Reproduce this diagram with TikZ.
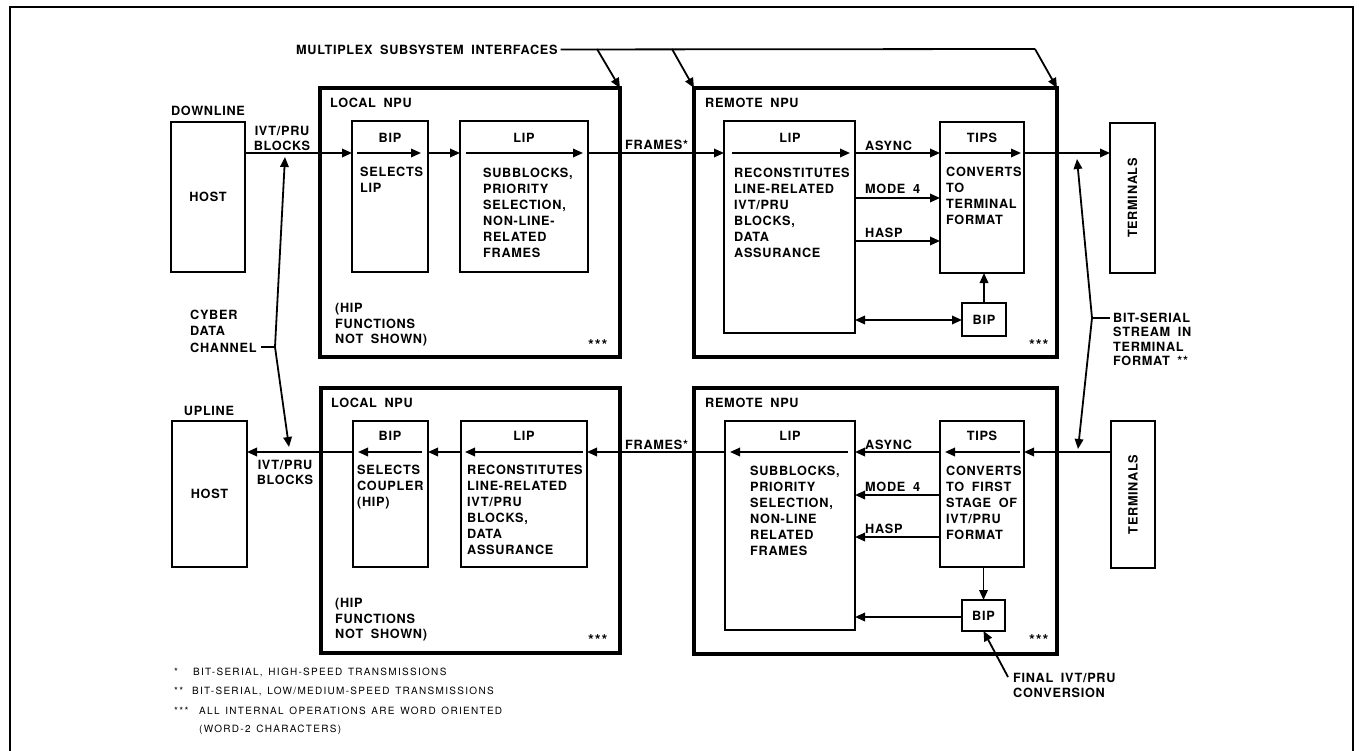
\documentclass[tikz,border=0pt]{standalone}
\usepackage{fontspec}
\setmainfont{TeX Gyre Heros}
\newfontfamily\lblfont[LetterSpace=5.5,WordSpace=1.8]{TeX Gyre Heros}
\newfontfamily\fnfont[LetterSpace=13,WordSpace=1.4]{TeX Gyre Heros}
\usetikzlibrary{arrows.meta,calc}
\newcommand\mkbox[7]{%
  \pgfmathsetmacro\bxw{#5-#3}\pgfmathsetmacro\bxh{#6-#4}%
  \pgfmathsetmacro\bxx{(#3+#5)/2}\pgfmathsetmacro\bxy{(#4+#6)/2}%
  \node[#1, minimum width=\bxw pt, minimum height=\bxh pt] (#2) at (\bxx,\bxy) {#7};}
\tikzset{
  frame/.style={line width=2.4pt},
  bx/.style={draw, line width=2.9pt, inner sep=0pt, outer sep=0pt, font=\lblfont\bfseries\fontsize{12.7}{16}\selectfont},
  npu/.style={draw, line width=3.3pt, inner sep=0pt, outer sep=0pt},
  ln/.style={line width=1.8pt},
  arr/.style={line width=1.8pt, -{Triangle[length=10pt,width=8.5pt]}},
  darr/.style={line width=1.8pt, {Triangle[length=10pt,width=8.5pt]}-{Triangle[length=10pt,width=8.5pt]}},
  lb/.style={font=\lblfont\bfseries\fontsize{12.7}{16}\selectfont, inner sep=0pt, anchor=north west, align=left},
  lbc/.style={font=\lblfont\bfseries\fontsize{12.7}{16}\selectfont, inner sep=0pt, anchor=center, align=center},
  dots/.style={font=\lblfont\bfseries\fontsize{15}{16}\selectfont, inner sep=0pt, anchor=north west},
  fn/.style={font=\fnfont\fontsize{10}{12}\selectfont, inner sep=0pt, anchor=west},
}
\begin{document}
\begin{tikzpicture}[x=1pt,y=-1pt]
\useasboundingbox (0,0) rectangle (1359,751);
\draw[frame] (10,760) -- (10,7) -- (1353,7) -- (1353,760);

% NPU enclosures
\mkbox{npu}{npuLT}{320}{88}{620}{357}{}
\mkbox{npu}{npuRT}{694}{88}{1057}{357}{}
\mkbox{npu}{npuLB}{321}{388}{620}{653}{}
\mkbox{npu}{npuRB}{694}{388}{1057}{654}{}

% top row boxes
\mkbox{bx}{hostD}{171}{122}{245}{272}{HOST}
\mkbox{bx}{bipLT}{352}{121}{428}{272}{}
\mkbox{bx}{lipLT}{460}{121}{588}{272}{}
\mkbox{bx}{lipRT}{724}{121}{855}{333}{}
\mkbox{bx}{tipsT}{940}{122}{1024}{273}{}
\mkbox{bx}{bipRT}{962}{303}{1006}{336}{BIP}
\mkbox{bx}{termT}{1110}{123}{1155}{273}{}

% bottom row boxes
\mkbox{bx}{hostU}{172}{421}{247}{567}{HOST}
\mkbox{bx}{bipLB}{353}{421}{428}{567}{}
\mkbox{bx}{lipLB}{461}{421}{587}{567}{}
\mkbox{bx}{lipRB}{725}{421}{855}{630}{}
\mkbox{bx}{tipsB}{940}{421}{1024}{567}{}
\mkbox{bx}{bipRB}{962}{600}{1005}{631}{BIP}
\mkbox{bx}{termB}{1111}{421}{1155}{568}{}

% rotated terminal labels
\node[lbc, rotate=90] (termTt) at (termT.center) {TERMINALS};
\node[lbc, rotate=90] (termBt) at (termB.center) {TERMINALS};

% row coordinates
\coordinate (r1) at (0,153);
\coordinate (rM) at (0,198);
\coordinate (rH) at (0,241);
\coordinate (rB) at (0,320);
\coordinate (s1) at (0,452);
\coordinate (sM) at (0,495);
\coordinate (sH) at (0,537);
\coordinate (sB) at (0,617);

% ---------- top labels ----------
\node[lb] (mux) at (296,44.5) {MULTIPLEX SUBSYSTEM INTERFACES};
\node[lbc] (dl) at (208,111) {DOWNLINE};
\node[lbc, font=\lblfont\bfseries\fontsize{12.7}{15}\selectfont] (ivtT) at (282,138) {IVT/PRU\\BLOCKS};
\node[lb] (lnpuT) at (330,97.5) {LOCAL NPU};
\node[lbc] (bipLTl) at (390,138) {BIP};
\node[lb] (bipLTt) at (360,166.5) {SELECTS\\LIP};
\node[lbc] (lipLTl) at (524,138) {LIP};
\node[lb] (lipLTt) at (483,167.5) {SUBBLOCKS,\\PRIORITY\\SELECTION,\\NON-LINE-\\RELATED\\FRAMES};
\node[lb] (frT) at (625,139.5) {FRAMES*};
\node[lb] (rnpuT) at (705,97.5) {REMOTE NPU};
\node[lbc] (lipRTl) at (790,138) {LIP};
\node[lb] (lipRTt) at (734,167.5) {RECONSTITUTES\\LINE-RELATED\\IVT/PRU\\BLOCKS,\\DATA\\ASSURANCE};
\node[lb] (asT) at (865,140.5) {ASYNC};
\node[lb] (m4T) at (865,183.5) {MODE 4};
\node[lb] (haT) at (865,227.5) {HASP};
\node[lbc] (tipsTl) at (982,138) {TIPS};
\node[lb] (tipsTt) at (946,166.5) {CONVERTS\\TO\\TERMINAL\\FORMAT};
\node[dots] (dotLT) at (588,339) {***};
\node[dots] (dotRT) at (1029,339) {***};
\node[lb, font=\lblfont\bfseries\fontsize{12.7}{15.5}\selectfont] (hipT) at (335,303.5) {(HIP\\FUNCTIONS\\NOT SHOWN)};
\node[lb, font=\lblfont\bfseries\fontsize{12.7}{16.5}\selectfont] (cyber) at (190,309.5) {CYBER\\DATA\\CHANNEL};
\node[lb, font=\lblfont\bfseries\fontsize{12.7}{14.5}\selectfont] (bits) at (1113,312.5) {BIT-SERIAL\\STREAM IN\\TERMINAL\\FORMAT **};

% ---------- bottom labels ----------
\node[lbc] (ul) at (209,411) {UPLINE};
\node[lbc, font=\lblfont\bfseries\fontsize{12.7}{15}\selectfont] (ivtB) at (285,472.5) {IVT/PRU\\BLOCKS};
\node[lb] (lnpuB) at (331,397.5) {LOCAL NPU};
\node[lbc] (bipLBl) at (390,436) {BIP};
\node[lb] (bipLBt) at (357,464.5) {SELECTS\\COUPLER\\(HIP)};
\node[lbc] (lipLBl) at (524,436) {LIP};
\node[lb] (lipLBt) at (467,464.5) {RECONSTITUTES\\LINE-RELATED\\IVT/PRU\\BLOCKS,\\DATA\\ASSURANCE};
\node[lb] (frB) at (625,439.5) {FRAMES*};
\node[lb] (rnpuB) at (705,397.5) {REMOTE NPU};
\node[lbc] (lipRBl) at (790,436) {LIP};
\node[lb] (lipRBt) at (750,465.5) {SUBBLOCKS,\\PRIORITY\\SELECTION,\\NON-LINE\\RELATED\\FRAMES};
\node[lb] (asB) at (865,439.5) {ASYNC};
\node[lb] (m4B) at (865,481.5) {MODE 4};
\node[lb] (haB) at (865,523.5) {HASP};
\node[lbc] (tipsBl) at (982,436) {TIPS};
\node[lb] (tipsBt) at (946,465.5) {CONVERTS\\TO FIRST\\STAGE OF\\IVT/PRU\\FORMAT};
\node[dots] (dotLB) at (588,634) {***};
\node[dots] (dotRB) at (1029,634) {***};
\node[lb, font=\lblfont\bfseries\fontsize{12.7}{15.5}\selectfont] (hipB) at (335,598.5) {(HIP\\FUNCTIONS\\NOT SHOWN)};
\node[lb, font=\lblfont\bfseries\fontsize{12.7}{14.5}\selectfont] (finc) at (1013,673.5) {FINAL IVT/PRU\\CONVERSION};

% footnotes
\node[fn] (f1m) at (174,672) {*};
\node[fn] (f1) at (193,672) {BIT-SERIAL, HIGH-SPEED TRANSMISSIONS};
\node[fn] (f2m) at (174,691) {**};
\node[fn] (f2) at (192,691) {BIT-SERIAL, LOW/MEDIUM-SPEED TRANSMISSIONS};
\node[fn] (f3m) at (174,711) {***};
\node[fn] (f3) at (199,711) {ALL INTERNAL OPERATIONS ARE WORD ORIENTED};
\node[fn] (f4) at (199,730) {(WORD-2 CHARACTERS)};

% ---------- top connectors ----------
\draw[arr] (hostD.east |- r1) -- (bipLT.west |- r1);
\draw[arr] ($(bipLT.west |- r1)+(5,0)$) -- ($(bipLT.east |- r1)+(-7,0)$);
\draw[arr] (bipLT.east |- r1) -- (lipLT.west |- r1);
\draw[arr] ($(lipLT.west |- r1)+(6,0)$) -- ($(lipLT.east |- r1)+(-5,0)$);
\draw[arr] (lipLT.east |- r1) -- (lipRT.west |- r1);
\draw[arr] ($(lipRT.west |- r1)+(8,0)$) -- ($(lipRT.east |- r1)+(-5,0)$);
\draw[arr] (lipRT.east |- r1) -- (tipsT.west |- r1);
\draw[arr] (lipRT.east |- rM) -- (tipsT.west |- rM);
\draw[arr] (lipRT.east |- rH) -- (tipsT.west |- rH);
\draw[arr] ($(tipsT.west |- r1)+(5,0)$) -- ($(tipsT.east |- r1)+(-3,0)$);
\draw[arr] (tipsT.east |- r1) -- (termT.west |- r1);
\draw[arr] (bipRT.north) -- (bipRT.north |- tipsT.south);
\draw[darr] (lipRT.east |- rB) -- (bipRT.west |- rB);

% ---------- bottom connectors ----------
\draw[arr] (bipLB.west |- s1) -- (hostU.east |- s1);
\draw[arr] ($(bipLB.east |- s1)+(-6,0)$) -- ($(bipLB.west |- s1)+(5,0)$);
\draw[arr] (lipLB.west |- s1) -- (bipLB.east |- s1);
\draw[arr] ($(lipLB.east |- s1)+(-4,0)$) -- ($(lipLB.west |- s1)+(4,0)$);
\draw[arr] (lipRB.west |- s1) -- (lipLB.east |- s1);
\draw[arr] ($(lipRB.east |- s1)+(-7,0)$) -- ($(lipRB.west |- s1)+(5,0)$);
\draw[arr] (tipsB.west |- s1) -- (lipRB.east |- s1);
\draw[arr] (tipsB.west |- sM) -- (lipRB.east |- sM);
\draw[arr] (tipsB.west |- sH) -- (lipRB.east |- sH);
\draw[arr] ($(tipsB.east |- s1)+(-4,0)$) -- ($(tipsB.west |- s1)+(5,0)$);
\draw[arr] (termB.west |- s1) -- (tipsB.east |- s1);
\draw[arr] (bipRB.north |- tipsB.south) -- (bipRB.north);
\draw[arr] (bipRB.west |- sB) -- (lipRB.east |- sB);

% ---------- callouts ----------
\coordinate (m1) at (597,49);
\coordinate (m2) at (672,49);
\coordinate (m3) at (1035,49);
\draw[ln, shorten <=3pt] (mux.east) -- (m3);
\draw[arr] (m1) -- (npuLT.north east);
\draw[arr] (m2) -- (npuRT.north west);
\draw[arr] (m3) -- (npuRT.north east);

\coordinate (cbt) at (261,347);
\coordinate (cb) at (275,347);
\coordinate (cbu) at (285,157);
\coordinate (cbd) at (289,447);
\draw[ln] (cbt) -- (cb);
\draw[arr] (cb) -- (cbu);
\draw[arr] (cb) -- (cbd);

\coordinate (bs) at (1092,318);
\coordinate (bst) at (1110,318);
\coordinate (bsu) at (1077,159);
\coordinate (bsd) at (1078,449);
\draw[ln] (bs) -- (bst);
\draw[arr] (bs) -- (bsu);
\draw[arr] (bs) -- (bsd);

\coordinate (fc) at (1008,677);
\draw[arr] (fc) -- (bipRB.south);
\end{tikzpicture}
\end{document}
